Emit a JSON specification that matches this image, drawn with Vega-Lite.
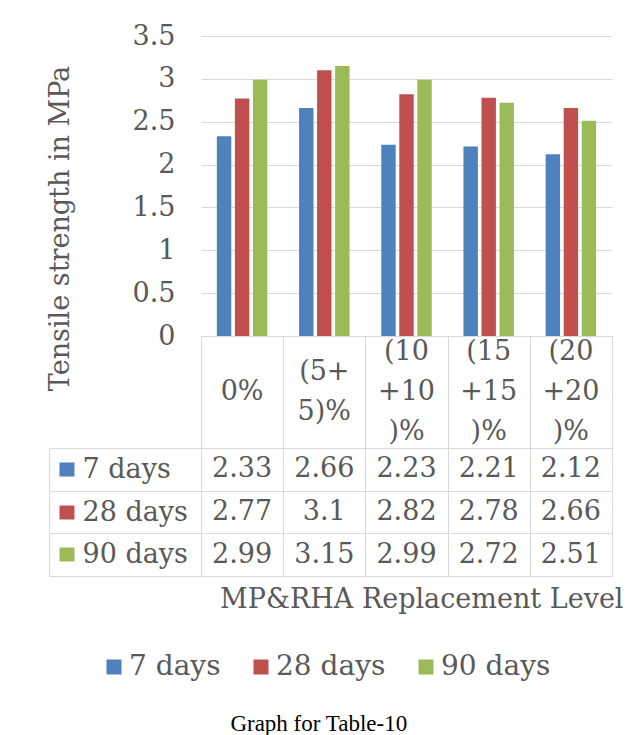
{
  "$schema": "https://vega.github.io/schema/vega-lite/v6.json",
  "padding": {"left": 46, "top": 22, "right": 5, "bottom": 5},
  "background": "white",
  "spacing": 0,
  "bounds": "flush",
  "config": {
    "view": {"stroke": null},
    "font": "DejaVu Serif",
    "axis": {"labelFont": "DejaVu Serif", "titleFont": "DejaVu Serif"}
  },
  "datasets": {
    "vals": [
      {"series": "7 days", "cat": "0%", "value": 2.33},
      {"series": "7 days", "cat": "(5+5)%", "value": 2.66},
      {"series": "7 days", "cat": "(10+10)%", "value": 2.23},
      {"series": "7 days", "cat": "(15+15)%", "value": 2.21},
      {"series": "7 days", "cat": "(20+20)%", "value": 2.12},
      {"series": "28 days", "cat": "0%", "value": 2.77},
      {"series": "28 days", "cat": "(5+5)%", "value": 3.1},
      {"series": "28 days", "cat": "(10+10)%", "value": 2.82},
      {"series": "28 days", "cat": "(15+15)%", "value": 2.78},
      {"series": "28 days", "cat": "(20+20)%", "value": 2.66},
      {"series": "90 days", "cat": "0%", "value": 2.99},
      {"series": "90 days", "cat": "(5+5)%", "value": 3.15},
      {"series": "90 days", "cat": "(10+10)%", "value": 2.99},
      {"series": "90 days", "cat": "(15+15)%", "value": 2.72},
      {"series": "90 days", "cat": "(20+20)%", "value": 2.51}
    ],
    "hdr": [
      {"cat": "0%", "label": "0%"},
      {"cat": "(5+5)%", "label": "(5+\n5)%"},
      {"cat": "(10+10)%", "label": "(10\n+10\n)%"},
      {"cat": "(15+15)%", "label": "(15\n+15\n)%"},
      {"cat": "(20+20)%", "label": "(20\n+20\n)%"}
    ]
  },
  "vconcat": [
    {
      "width": 411,
      "height": 300,
      "data": {"name": "vals"},
      "mark": {"type": "bar"},
      "encoding": {
        "x": {"field": "cat", "type": "nominal", "scale": {"domain": ["0%", "(5+5)%", "(10+10)%", "(15+15)%", "(20+20)%"], "paddingInner": 0, "paddingOuter": 0}, "axis": null},
        "xOffset": {"field": "series", "type": "nominal", "scale": {"domain": ["7 days", "28 days", "90 days"], "paddingInner": 0.2, "paddingOuter": 0.88}},
        "y": {
          "field": "value", "type": "quantitative",
          "scale": {"domain": [0, 3.5], "nice": false},
          "axis": {
            "values": [0, 0.5, 1, 1.5, 2, 2.5, 3, 3.5], "format": ".2~f",
            "grid": true, "gridColor": "#d9d9d9", "domain": false, "ticks": false,
            "labelPadding": 26, "labelFontSize": 27, "labelColor": "#595959",
            "title": "Tensile strength in MPa", "titleFontSize": 27, "titleColor": "#595959",
            "titleFontWeight": "normal", "titlePadding": 58, "titleY": 192
          }
        },
        "color": {
          "field": "series", "type": "nominal",
          "scale": {"domain": ["7 days", "28 days", "90 days"], "range": ["#4f81bd", "#c0504d", "#9bbb59"]},
          "legend": {
            "title": null, "orient": "none", "legendX": -101, "legendY": 617, "direction": "horizontal",
            "symbolType": "square", "symbolSize": 225, "symbolStrokeWidth": 0,
            "labelFontSize": 28, "labelFont": "DejaVu Serif", "labelColor": "#595959",
            "labelOffset": 1, "columnPadding": 26
          }
        }
      }
    },
    {
      "width": 411,
      "height": 112,
      "view": {"stroke": "#d9d9d9"},
      "data": {"name": "hdr"},
      "encoding": {
        "x": {"field": "cat", "type": "nominal", "scale": {"domain": ["0%", "(5+5)%", "(10+10)%", "(15+15)%", "(20+20)%"], "paddingInner": 0, "paddingOuter": 0},
          "axis": {"orient": "top", "labels": false, "ticks": false, "domain": false, "title": null, "grid": true, "tickBand": "extent", "gridColor": "#d9d9d9"}},
        "text": {"field": "label", "type": "nominal"}
      },
      "layer": [
        {
          "transform": [{"filter": "length(split(datum.label, '\\n')) == 1"}],
          "mark": {"type": "text", "lineBreak": "\n", "lineHeight": 40, "fontSize": 27, "color": "#595959", "font": "DejaVu Serif", "baseline": "middle", "dy": 0}
        },
        {
          "transform": [{"filter": "length(split(datum.label, '\\n')) == 2"}],
          "mark": {"type": "text", "lineBreak": "\n", "lineHeight": 40, "fontSize": 27, "color": "#595959", "font": "DejaVu Serif", "baseline": "middle", "dy": -20}
        },
        {
          "transform": [{"filter": "length(split(datum.label, '\\n')) == 3"}],
          "mark": {"type": "text", "lineBreak": "\n", "lineHeight": 40, "fontSize": 27, "color": "#595959", "font": "DejaVu Serif", "baseline": "middle", "dy": -40}
        }
      ]
    },
    {
      "width": 411,
      "height": 128,
      "view": {"stroke": "#d9d9d9"},
      "data": {"name": "vals"},
      "resolve": {"scale": {"y": "independent"}, "axis": {"y": "independent"}},
      "layer": [
        {
          "mark": {"type": "text", "fontSize": 27, "color": "#595959", "font": "DejaVu Serif"},
          "encoding": {
            "x": {"field": "cat", "type": "nominal", "scale": {"domain": ["0%", "(5+5)%", "(10+10)%", "(15+15)%", "(20+20)%"], "paddingInner": 0, "paddingOuter": 0},
              "axis": {"labels": false, "ticks": false, "domain": false, "grid": true, "tickBand": "extent", "gridColor": "#d9d9d9",
                "title": "MP&RHA Replacement Level", "titleFontSize": 27, "titleColor": "#595959", "titleFontWeight": "normal",
                "titleAnchor": "end", "titleAlign": "right", "titleX": 422, "titlePadding": 10}},
            "y": {"field": "series", "type": "nominal", "scale": {"domain": ["7 days", "28 days", "90 days"], "paddingInner": 0, "paddingOuter": 0},
              "axis": {"orient": "left", "domain": false, "grid": true, "gridColor": "#d9d9d9", "tickBand": "extent", "ticks": true, "tickSize": 152, "tickColor": "#d9d9d9",
                "labelAlign": "left", "labelPadding": -33, "labelFontSize": 27, "labelColor": "#595959", "title": null}},
            "text": {"field": "value", "type": "quantitative", "format": ".2~f"}
          }
        },
        {
          "mark": {"type": "text", "text": ""},
          "encoding": {
            "y": {"field": "series", "type": "nominal", "scale": {"domain": ["7 days", "28 days", "90 days"], "paddingInner": 0, "paddingOuter": 0},
              "axis": {"orient": "left", "offset": 127, "domain": false, "grid": false, "labels": false, "ticks": true, "tickSize": 15, "tickWidth": 14, "tickBand": "center",
                "tickColor": {"condition": [{"test": "datum.value === '7 days'", "value": "#4f81bd"}, {"test": "datum.value === '28 days'", "value": "#c0504d"}], "value": "#9bbb59"},
                "title": null}}
          }
        },
        {
          "mark": {"type": "text", "text": ""},
          "encoding": {
            "y": {"field": "series", "type": "nominal", "scale": {"domain": ["7 days", "28 days", "90 days"], "paddingInner": 0, "paddingOuter": 0},
              "axis": {"orient": "left", "offset": 152, "domain": true, "domainColor": "#d9d9d9", "ticks": false, "labels": false, "grid": false, "title": null}}
          }
        }
      ]
    }
  ],
  "title": {"text": "Graph for Table-10", "orient": "bottom", "font": "Liberation Serif", "fontSize": 23, "color": "#000000", "fontWeight": "normal", "anchor": "middle", "offset": 32, "dx": -16}
}
